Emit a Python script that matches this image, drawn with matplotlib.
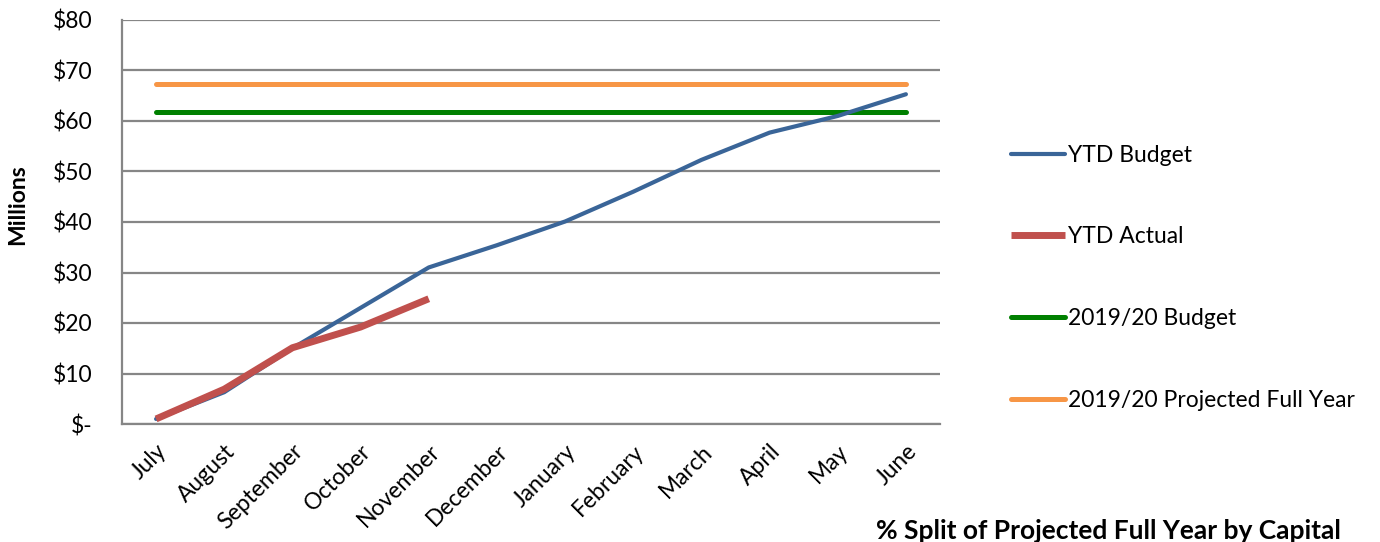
import numpy as np
import matplotlib
matplotlib.use('Agg')
import matplotlib.pyplot as plt
from matplotlib.ticker import FuncFormatter

plt.rcParams['font.family'] = ['Lato', 'DejaVu Sans']

months = ["July", "August", "September", "October", "November", "December",
          "January", "February", "March", "April", "May", "June"]
ytd_budget = [1.0, 6.3, 15.0, 23.0, 31.0, 35.4, 40.1, 46.0, 52.3, 57.7, 61.0, 65.3]
ytd_actual = [1.0, 6.9, 15.1, 19.2, 24.8]
budget_full = 61.7
projected_full = 67.3

x = np.arange(len(months))
fs = 16.5

fig = plt.figure(figsize=(13.8, 5.42), dpi=100)
ax = fig.add_axes([122/1380, 1-424/542, 818/1380, 404/542])

ax.plot(x, ytd_budget, color='#3a6598', lw=3.0, solid_capstyle='round', label='YTD Budget', zorder=3)
ax.plot(x[:len(ytd_actual)], ytd_actual, color='#c0504d', lw=5.0, solid_capstyle='butt', label='YTD Actual', zorder=4)
ax.plot(x, [budget_full]*len(x), color='#008000', lw=3.6, solid_capstyle='round', label='2019/20 Budget', zorder=2)
ax.plot(x, [projected_full]*len(x), color='#f79646', lw=3.6, solid_capstyle='round', label='2019/20 Projected Full Year', zorder=2)

ax.set_xlim(-0.5, len(months)-0.5)
ax.set_ylim(0, 80)
ax.set_yticks(np.arange(0, 81, 10))
ax.yaxis.set_major_formatter(FuncFormatter(lambda v, _: "$-" if v == 0 else "${:.0f}".format(v)))
ax.grid(axis='y', color='#868686', lw=1.6)
ax.set_axisbelow(True)
for s in ['top', 'right']:
    ax.spines[s].set_visible(False)
for s in ['left', 'bottom']:
    ax.spines[s].set_color('#868686')
    ax.spines[s].set_linewidth(1.6)
ax.tick_params(axis='y', length=0, pad=21, labelsize=fs)
ax.tick_params(axis='x', length=0, pad=12, labelsize=fs)
ax.set_xticks(x)
ax.set_xticklabels(months, rotation=45, ha='right', va='top', rotation_mode='anchor')

ax.set_ylabel("Millions", fontsize=fs, fontweight='bold')
ax.yaxis.set_label_coords(-94/818, 0.542)

fig.legend(loc='upper left', bbox_to_anchor=(990/1380, 1-124/542), frameon=False,
           fontsize=fs, handlelength=2.36, handletextpad=0.15, labelspacing=2.65)

fig.text(876/1380, 3/542, "% Split of Projected Full Year by Capital",
         fontsize=19, fontweight='bold', va='baseline', ha='left')

fig.savefig("out.png", dpi=100)
